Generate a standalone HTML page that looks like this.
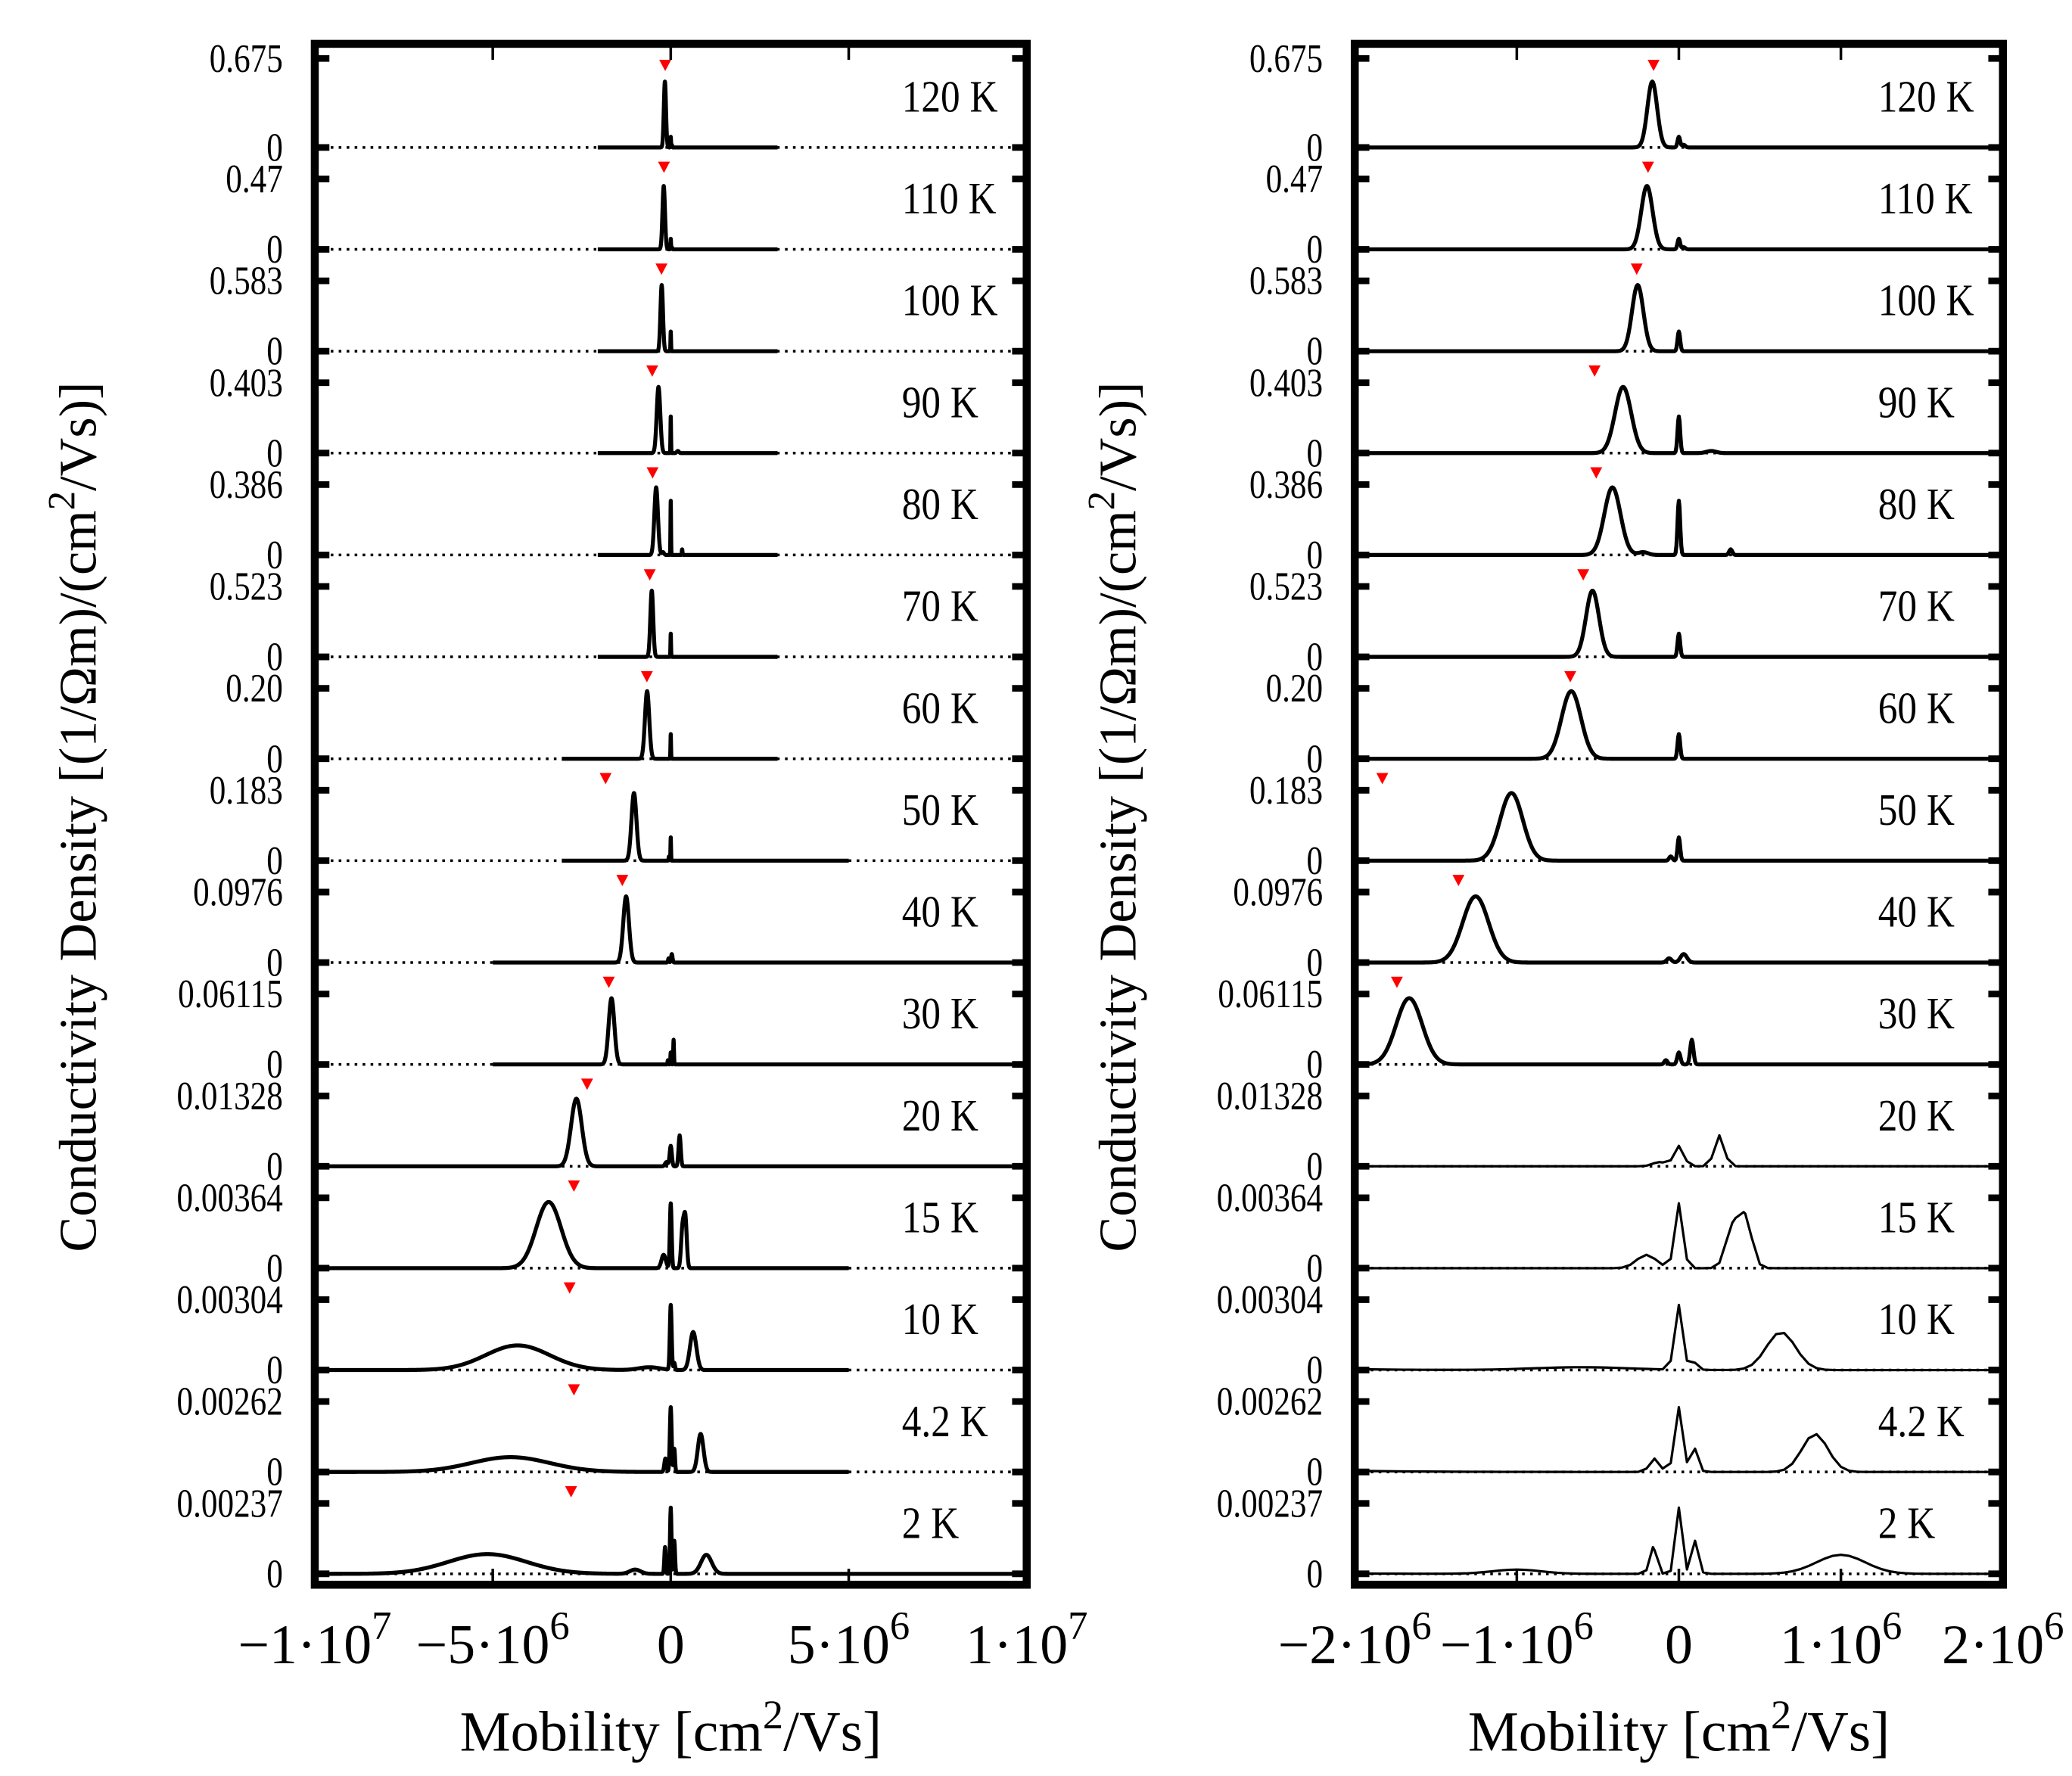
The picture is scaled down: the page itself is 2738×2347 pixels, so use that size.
<!DOCTYPE html>
<html><head><meta charset="utf-8"><style>
html,body{margin:0;padding:0;background:#fff;}
svg{display:block;}
text{font-family:"Liberation Serif",serif;fill:#000;}
</style></head><body>
<svg id="chart" width="2738" height="2347" viewBox="0 0 1560 1337" preserveAspectRatio="none" xmlns="http://www.w3.org/2000/svg"></svg>
<script>
// ---- data ----
const temps = ["120 K","110 K","100 K","90 K","80 K","70 K","60 K","50 K","40 K","30 K","20 K","15 K","10 K","4.2 K","2 K"];
const ymaxLabels = ["0.675","0.47","0.583","0.403","0.386","0.523","0.20","0.183","0.0976","0.06115","0.01328","0.00364","0.00304","0.00262","0.00237"];
// marker mobility (1e6 cm2/Vs)
const markers = [-0.156,-0.19,-0.26,-0.52,-0.51,-0.59,-0.67,-1.83,-1.36,-1.74,-2.35,-2.72,-2.84,-2.72,-2.80];
// peaks per row: [center (1e6), width (1e6), amplitude as fraction of row max]
const peaks120 = [[-0.164,0.03,0.74],[0,0.008,0.12],[0.03,0.01,0.03]];
const peaks110 = [[-0.197,0.035,0.9],[0,0.008,0.15],[0.03,0.01,0.03]];
const peaks100 = [[-0.254,0.035,0.94],[0,0.008,0.28]];
const peaks90 = [[-0.344,0.05,0.94],[0,0.008,0.52],[0.2,0.03,0.03]];
const peaks80 = [[-0.41,0.05,0.96],[-0.22,0.03,0.04],[0,0.008,0.77],[0.32,0.01,0.08]];
const peaks70 = [[-0.533,0.04,0.94],[0,0.008,0.33]];
const peaks60 = [[-0.664,0.06,0.96],[0,0.008,0.35]];
const peaks50 = [[-1.033,0.07,0.96],[-0.05,0.01,0.06],[0,0.008,0.33]];
const peaks40 = [[-1.254,0.08,0.94],[-0.06,0.015,0.06],[0.03,0.02,0.12]];
const peaks30 = [[-1.664,0.08,0.94],[-0.08,0.01,0.06],[0,0.01,0.17],[0.08,0.01,0.35]];
const peaks20 = [[-2.65,0.15,0.96],[-0.12,0.04,0.06],[0,0.03,0.29],[0.25,0.03,0.44]];
const peaks15 = [[-3.43,0.35,0.94],[-0.2,0.06,0.19],[0,0.025,0.92],[0.33,0.04,0.55],[0.41,0.04,0.7]];
const peaks10 = [[-4.3,0.9,0.35],[-0.6,0.3,0.04],[0,0.025,0.92],[0.1,0.02,0.1],[0.63,0.09,0.54]];
const peaks4 = [[-4.5,1.1,0.21],[-0.15,0.03,0.19],[0,0.025,0.92],[0.1,0.02,0.33],[0.84,0.08,0.54]];
const peaks2 = [[-5.15,1.1,0.28],[-1.0,0.15,0.06],[-0.16,0.02,0.38],[0,0.02,0.94],[0.1,0.02,0.47],[1.0,0.15,0.27]];
const allPeaks = [peaks120,peaks110,peaks100,peaks90,peaks80,peaks70,peaks60,peaks50,peaks40,peaks30,peaks20,peaks15,peaks10,peaks4,peaks2];
// data extent of left-panel curves (1e6)
const leftMin = [-2.05,-2.05,-2.05,-2.05,-2.05,-2.05,-3.06,-3.06,-5,-5,-10,-10,-10,-10,-10];
const leftMax = [3,3,3,3,3,3,3,5,10,10,10,5,5,5,10];
const leftTicks = [-10,-5,0,5,10];
const rightTicks = [-2,-1,0,1,2];

const svg = document.getElementById('chart');
const NS = 'http://www.w3.org/2000/svg';
function mk(tag, attrs, parent){const e=document.createElementNS(NS,tag);for(const k in attrs)e.setAttribute(k,attrs[k]);(parent||svg).appendChild(e);return e;}

const panels = [
  {x0:237,x1:773,min:-10,max:10,ticks:leftTicks,name:'left',exp:[7,6,0,6,7],mant:['−1','−5','0','5','1']},
  {x0:1020,x1:1508,min:-2,max:2,ticks:rightTicks,name:'right',exp:[6,6,0,6,6],mant:['−2','−1','0','1','2']}
];
const top0=33, bot=1193;
function zeroY(i){return 111+i*76.7;}
function topY(i){return i===0?44:zeroY(i)-53;}
function val(p,m){let s=0;for(const q of p){const d=(m-q[0])/q[1];s+=q[2]*Math.exp(-0.5*d*d);}return s;}

panels.forEach((P,pi)=>{
  const sx=m=>P.x0+(m-P.min)/(P.max-P.min)*(P.x1-P.x0);
  const g=mk('g',{});
  
  
  const clipId='clip'+pi;
  const cp=mk('clipPath',{id:clipId},g);
  mk('rect',{x:P.x0,y:top0,width:P.x1-P.x0,height:bot-top0},cp);
  temps.forEach((t,i)=>{
    const z=zeroY(i), ty=topY(i), H=z-ty;
    const sy=v=>z-v*H;
    const zl=mk('line',{x1:P.x0,x2:P.x1,y1:z,y2:z,stroke:'#000','stroke-width':2,'stroke-dasharray':'2 4'},g);
    
    
    let lo,hi;
    if(pi===0){lo=leftMin[i];hi=leftMax[i];}else{lo=P.min;hi=P.max;}
    let xs=[];const N=pi===0?1600:(i>=10?80:800);
    for(let k=0;k<=N;k++)xs.push(lo+(hi-lo)*k/N);
    if(!(pi===1&&i>=10)){allPeaks[i].forEach(q=>{[-1,-0.5,0,0.5,1].forEach(f=>{const m=q[0]+f*q[1];if(m>=lo&&m<=hi)xs.push(m);});});}
    else{allPeaks[i].forEach(q=>{if(q[1]<0.05&&q[0]>=lo&&q[0]<=hi)xs.push(q[0]);});}
    xs.sort((a,b)=>a-b);
    const d=xs.map((m,k)=>(k?'L':'M')+sx(m).toFixed(2)+' '+sy(val(allPeaks[i],m)).toFixed(2)).join('');
    const path=mk('path',{d:d,fill:'none',stroke:'#000','stroke-width':(pi===1&&i>=10)?1.8:3,'stroke-linejoin':'round','clip-path':'url(#'+clipId+')'},g);
    
    
    const mx=sx(markers[i]), my=z-62;
    if(markers[i]>=P.min&&markers[i]<=P.max){
      const tri=mk('polygon',{points:(mx-4.5)+','+(my-4)+' '+(mx+4.5)+','+(my-4)+' '+mx+','+(my+4.5),fill:'#f00'},g);
      
      
    }
    [ty,z].forEach(y=>{
      mk('line',{x1:P.x0,x2:P.x0+11,y1:y,y2:y,stroke:'#000','stroke-width':5},g);
      mk('line',{x1:P.x1-11,x2:P.x1,y1:y,y2:y,stroke:'#000','stroke-width':5},g);
    });
    const lt=mk('text',{x:0,y:0,'font-size':30,'text-anchor':'end',transform:'translate('+(P.x0-24)+','+(ty+10)+') scale(0.82,1)'},g);
    lt.textContent=ymaxLabels[i];
    
    
    const l0=mk('text',{x:0,y:0,'font-size':30,'text-anchor':'end',transform:'translate('+(P.x0-24)+','+(z+10)+') scale(0.82,1)'},g);
    l0.textContent='0';
    
    
    const tl=mk('text',{x:0,y:0,'font-size':34,transform:'translate('+(P.x1-94)+','+(z-27)+') scale(0.86,1)'},g);
    tl.textContent=t;
    
    
  });
  P.ticks.forEach((tv,k)=>{
    const x=sx(tv);
    if(k>0&&k<P.ticks.length-1){
      mk('line',{x1:x,x2:x,y1:top0,y2:top0+12,stroke:'#000','stroke-width':2},g);
      mk('line',{x1:x,x2:x,y1:bot-12,y2:bot,stroke:'#000','stroke-width':2},g);
    }
    const tx=mk('text',{x:x,y:1252,'font-size':42,'text-anchor':'middle'},g);
    
    
    if(tv===0){tx.textContent='0';}
    else{
      const a=document.createElementNS(NS,'tspan');a.textContent=P.mant[k]+'·10';tx.appendChild(a);
      const b=document.createElementNS(NS,'tspan');b.setAttribute('dy','-18');b.setAttribute('font-size','30');b.textContent=String(P.exp[k]);tx.appendChild(b);
    }
  });
  const fr=mk('rect',{x:P.x0,y:top0,width:P.x1-P.x0,height:bot-top0,fill:'none',stroke:'#000','stroke-width':6},g);
  
  
  const xt=mk('text',{x:(P.x0+P.x1)/2,y:1318,'font-size':43,'text-anchor':'middle'},g);
  
  
  xt.innerHTML='Mobility [cm<tspan dy="-17" font-size="31">2</tspan><tspan dy="17">/Vs]</tspan>';
  const cx=pi===0?72:855;
  const yt=mk('text',{x:0,y:0,'font-size':40,'text-anchor':'middle',transform:'translate('+cx+',615) rotate(-90)'},g);
  
  
  yt.innerHTML='Conductivity Density [(1/Ωm)/(cm<tspan dy="-16" font-size="29">2</tspan><tspan dy="16">/Vs)]</tspan>';
});
</script>
</body></html>
